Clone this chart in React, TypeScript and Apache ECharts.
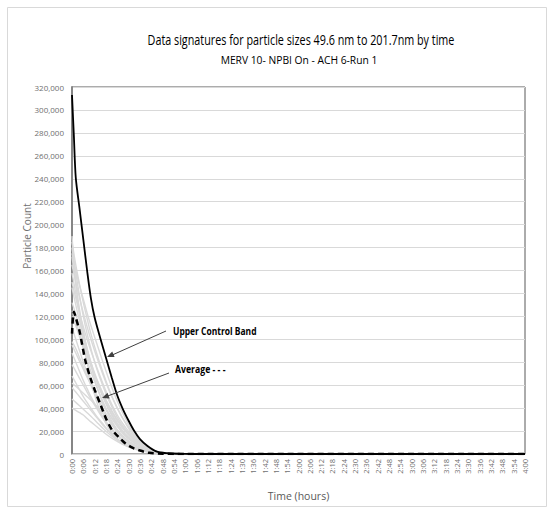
import React, { useEffect, useRef } from "react";
import * as echarts from "echarts";

const TITLE = "Data signatures for particle sizes 49.6 nm to 201.7nm by time";
const SUBTITLE = "MERV 10- NPBI On - ACH 6-Run 1";
const Y_NAME = "Particle Count";
const X_NAME = "Time (hours)";

// minutes since start
const GRAY_TIMES = [0, 2, 4, 6, 8, 10, 13, 16, 20, 24, 28, 33, 38, 45, 55, 65, 240];

const GRAY_RUNS: number[][] = [
  [190000, 150000, 122000, 98000, 80000, 64000, 46000, 33000, 21000, 13000, 8000, 4500, 2500, 1000, 300, 0, 0],
  [185000, 165000, 148000, 132000, 118000, 105000, 88000, 73000, 55000, 40000, 28000, 15000, 8000, 2000, 500, 0, 0],
  [180000, 158000, 138000, 120000, 105000, 92000, 75000, 61000, 45000, 32000, 22000, 13000, 7000, 2000, 500, 0, 0],
  [175000, 160000, 147000, 135000, 123000, 112000, 97000, 82000, 63000, 46000, 32000, 17000, 8500, 2000, 500, 0, 0],
  [172000, 148000, 126000, 107000, 91000, 77000, 60000, 46000, 32000, 21000, 14000, 8000, 4500, 2000, 500, 0, 0],
  [165000, 150000, 136000, 123000, 111000, 100000, 85000, 71000, 54000, 40000, 28000, 17000, 8000, 2000, 500, 0, 0],
  [158000, 140000, 122000, 106000, 92000, 80000, 64000, 51000, 37000, 26000, 17000, 10000, 6000, 2000, 500, 0, 0],
  [150000, 136000, 123000, 111000, 100000, 90000, 76000, 63000, 47000, 34000, 24000, 14000, 7500, 2000, 500, 0, 0],
  [145000, 130000, 116000, 103000, 91000, 80000, 66000, 54000, 40000, 29000, 20000, 12000, 7000, 2000, 500, 0, 0],
  [132000, 122000, 110000, 99000, 88000, 78000, 64000, 52000, 38000, 27000, 18000, 11000, 6500, 2000, 500, 0, 0],
  [125000, 115000, 105000, 95000, 86000, 77000, 65000, 54000, 41000, 30000, 21000, 12500, 7000, 2000, 500, 0, 0],
  [120000, 112000, 102000, 92000, 82000, 72000, 59000, 47000, 34000, 24000, 16000, 9500, 5500, 2000, 500, 0, 0],
  [110000, 100000, 90000, 80000, 71000, 63000, 51000, 41000, 30000, 21000, 14000, 8000, 4500, 2000, 400, 0, 0],
  [98000, 92000, 84000, 76000, 68000, 60000, 49000, 39000, 28000, 19000, 13000, 7500, 4000, 1800, 400, 0, 0],
  [95000, 88000, 81000, 74000, 67000, 61000, 52000, 44000, 34000, 25000, 17000, 10000, 5500, 2000, 400, 0, 0],
  [88000, 80000, 72000, 64000, 57000, 50000, 41000, 33000, 24000, 17000, 11000, 6500, 3500, 1500, 300, 0, 0],
  [78000, 72000, 66000, 60000, 54000, 48000, 40000, 32000, 23000, 16000, 10000, 6000, 3300, 1400, 300, 0, 0],
  [68000, 62000, 56000, 50000, 45000, 40000, 33000, 27000, 19000, 13000, 8500, 5000, 2800, 1200, 300, 0, 0],
  [62000, 59000, 56000, 53000, 50000, 47000, 42000, 36000, 28000, 20000, 13000, 7500, 4000, 1500, 300, 0, 0],
  [58000, 54000, 50000, 46000, 42000, 38000, 32000, 26000, 19000, 13000, 8500, 5000, 2700, 1100, 250, 0, 0],
  [48000, 45000, 42000, 39000, 36000, 33000, 28000, 23000, 17000, 12000, 8000, 4700, 2500, 1000, 200, 0, 0],
  [40000, 38000, 36000, 34000, 31000, 28000, 24000, 20000, 15000, 11000, 7500, 4500, 2400, 900, 200, 0, 0],
];

const AVG_TIMES = [0, 1, 2, 4, 7, 10, 12, 15, 18, 21, 24, 28, 32, 36, 41, 48, 55, 60, 240];
const AVG_VALUES = [105000, 124000, 119000, 107000, 82000, 65000, 56000, 43500, 31000, 21500, 16000, 9600, 5500, 3000, 1000, 300, 80, 0, 0];

const UCB_TIMES = [0, 1, 2, 4, 6, 8, 10, 12, 15, 18, 21, 24, 27, 30, 33, 36, 40, 45, 50, 55, 60, 70, 240];
const UCB_VALUES = [313000, 277000, 241000, 214000, 187000, 160000, 136000, 119000, 101000, 84000, 67000, 51000, 39000, 29000, 20000, 13000, 7000, 2000, 700, 200, 50, 0, 0];

const Y_MIN = 0;
const Y_MAX = 320000;
const Y_STEP = 20000;
const X_MIN = 0;
const X_MAX = 240;
const X_STEP = 6;

const FONT = "'Open Sans', sans-serif";

const zip = (xs: number[], ys: number[]) => xs.map((x, i) => [x, ys[i]]);
const fmtTime = (m: number) => `${Math.floor(m / 60)}:${String(Math.round(m % 60)).padStart(2, "0")}`;

export default function App() {
  const ref = useRef<HTMLDivElement>(null);
  useEffect(() => {
    if (!ref.current) return;
    const chart = echarts.init(ref.current, undefined, { renderer: "svg" });
    const series: any[] = GRAY_RUNS.map((vals, i) => ({
      type: "line",
      name: `run${i}`,
      data: zip(GRAY_TIMES, vals),
      smooth: 0.4,
      showSymbol: false,
      lineStyle: { color: "#d9d9d9", width: 1.4 },
      z: 2,
    }));
    series.push({
      type: "line",
      name: "Average",
      data: zip(AVG_TIMES, AVG_VALUES),
      smooth: 0.3,
      showSymbol: false,
      lineStyle: { color: "#000", width: 2.5, type: [6, 4] },
      z: 3,
    });
    series.push({
      type: "line",
      name: "Upper Control Band",
      data: zip(UCB_TIMES, UCB_VALUES),
      smooth: 0.3,
      showSymbol: false,
      lineStyle: { color: "#000", width: 1.8 },
      z: 4,
    });
    chart.setOption({
      animation: false,
      backgroundColor: "#fff",
      grid: {
        left: 72,
        right: 29,
        top: 87,
        bottom: 60,
        containLabel: false,
        outerBoundsMode: "none",
        show: true,
        borderColor: "#595959",
        borderWidth: 1,
        backgroundColor: "transparent",
      },
      xAxis: {
        type: "value",
        min: X_MIN,
        max: X_MAX,
        interval: X_STEP,
        name: X_NAME,
        nameLocation: "middle",
        nameGap: 36,
        nameTextStyle: { fontFamily: FONT, fontSize: 10.5, color: "#595959" },
        axisLine: { show: true, lineStyle: { color: "#d9d9d9", width: 1 } },
        axisTick: { show: false },
        splitLine: { show: false },
        axisLabel: {
          rotate: 90,
          fontFamily: FONT,
          fontSize: 7.5,
          color: "#6f6f6f",
          margin: 5,
          formatter: (v: number) => fmtTime(v),
        },
      },
      yAxis: {
        type: "value",
        min: Y_MIN,
        max: Y_MAX,
        interval: Y_STEP,
        axisLine: { show: true, lineStyle: { color: "#868686", width: 2 } },
        axisTick: { show: false },
        splitLine: { show: true, lineStyle: { color: "#d9d9d9", width: 1 } },
        axisLabel: {
          fontFamily: FONT,
          fontSize: 8,
          color: "#6f6f6f",
          margin: 8,
          formatter: (v: number) => v.toLocaleString("en-US"),
        },
      },
      series,
      graphic: [
        {
          type: "rect",
          shape: { x: 7.5, y: 7.5, width: 539, height: 499 },
          style: { fill: "none", stroke: "#d9d9d9", lineWidth: 1 },
          silent: true,
          z: -1,
        },
        {
          type: "text",
          x: 301,
          y: 40,
          scaleX: 0.77,
          style: {
            text: TITLE,
            fontFamily: FONT,
            fontSize: 14,
            fill: "#000",
            textAlign: "center",
            textVerticalAlign: "middle",
          },
        },
        {
          type: "text",
          x: 299,
          y: 60,
          scaleX: 0.98,
          style: {
            text: SUBTITLE,
            fontFamily: FONT,
            fontSize: 10.5,
            fill: "#000",
            textAlign: "center",
            textVerticalAlign: "middle",
          },
        },
        {
          type: "text",
          x: 27,
          y: 236,
          rotation: Math.PI / 2,
          style: {
            text: Y_NAME,
            fontFamily: FONT,
            fontSize: 10,
            fill: "#6f6f6f",
            textAlign: "center",
            textVerticalAlign: "middle",
          },
        },
        {
          type: "line",
          shape: { x1: 166, y1: 331, x2: 110, y2: 356 },
          style: { stroke: "#404040", lineWidth: 1 },
          z: 10,
        },
        {
          type: "polygon",
          shape: { points: [[107, 357], [114.6, 356.9], [112.2, 351.5]] },
          style: { fill: "#404040" },
          z: 10,
        },
        {
          type: "line",
          shape: { x1: 169, y1: 373, x2: 105, y2: 397 },
          style: { stroke: "#404040", lineWidth: 1 },
          z: 10,
        },
        {
          type: "polygon",
          shape: { points: [[102, 398], [109.6, 398.4], [107.5, 392.7]] },
          style: { fill: "#404040" },
          z: 10,
        },
        {
          type: "text",
          x: 173,
          y: 331,
          scaleX: 0.77,
          style: {
            text: "Upper Control Band",
            fontFamily: FONT,
            fontSize: 11,
            fontWeight: "bold",
            fill: "#000",
            textVerticalAlign: "middle",
          },
          z: 10,
        },
        {
          type: "text",
          x: 175,
          y: 369,
          scaleX: 0.79,
          style: {
            text: "Average - - -",
            fontFamily: FONT,
            fontSize: 11,
            fontWeight: "bold",
            fill: "#000",
            textVerticalAlign: "middle",
          },
          z: 10,
        },
      ],
    });
    return () => chart.dispose();
  }, []);
  return (
    <div
      ref={ref}
      style={{ position: "absolute", left: 0, top: 0, width: 554, height: 514 }}
    />
  );
}
